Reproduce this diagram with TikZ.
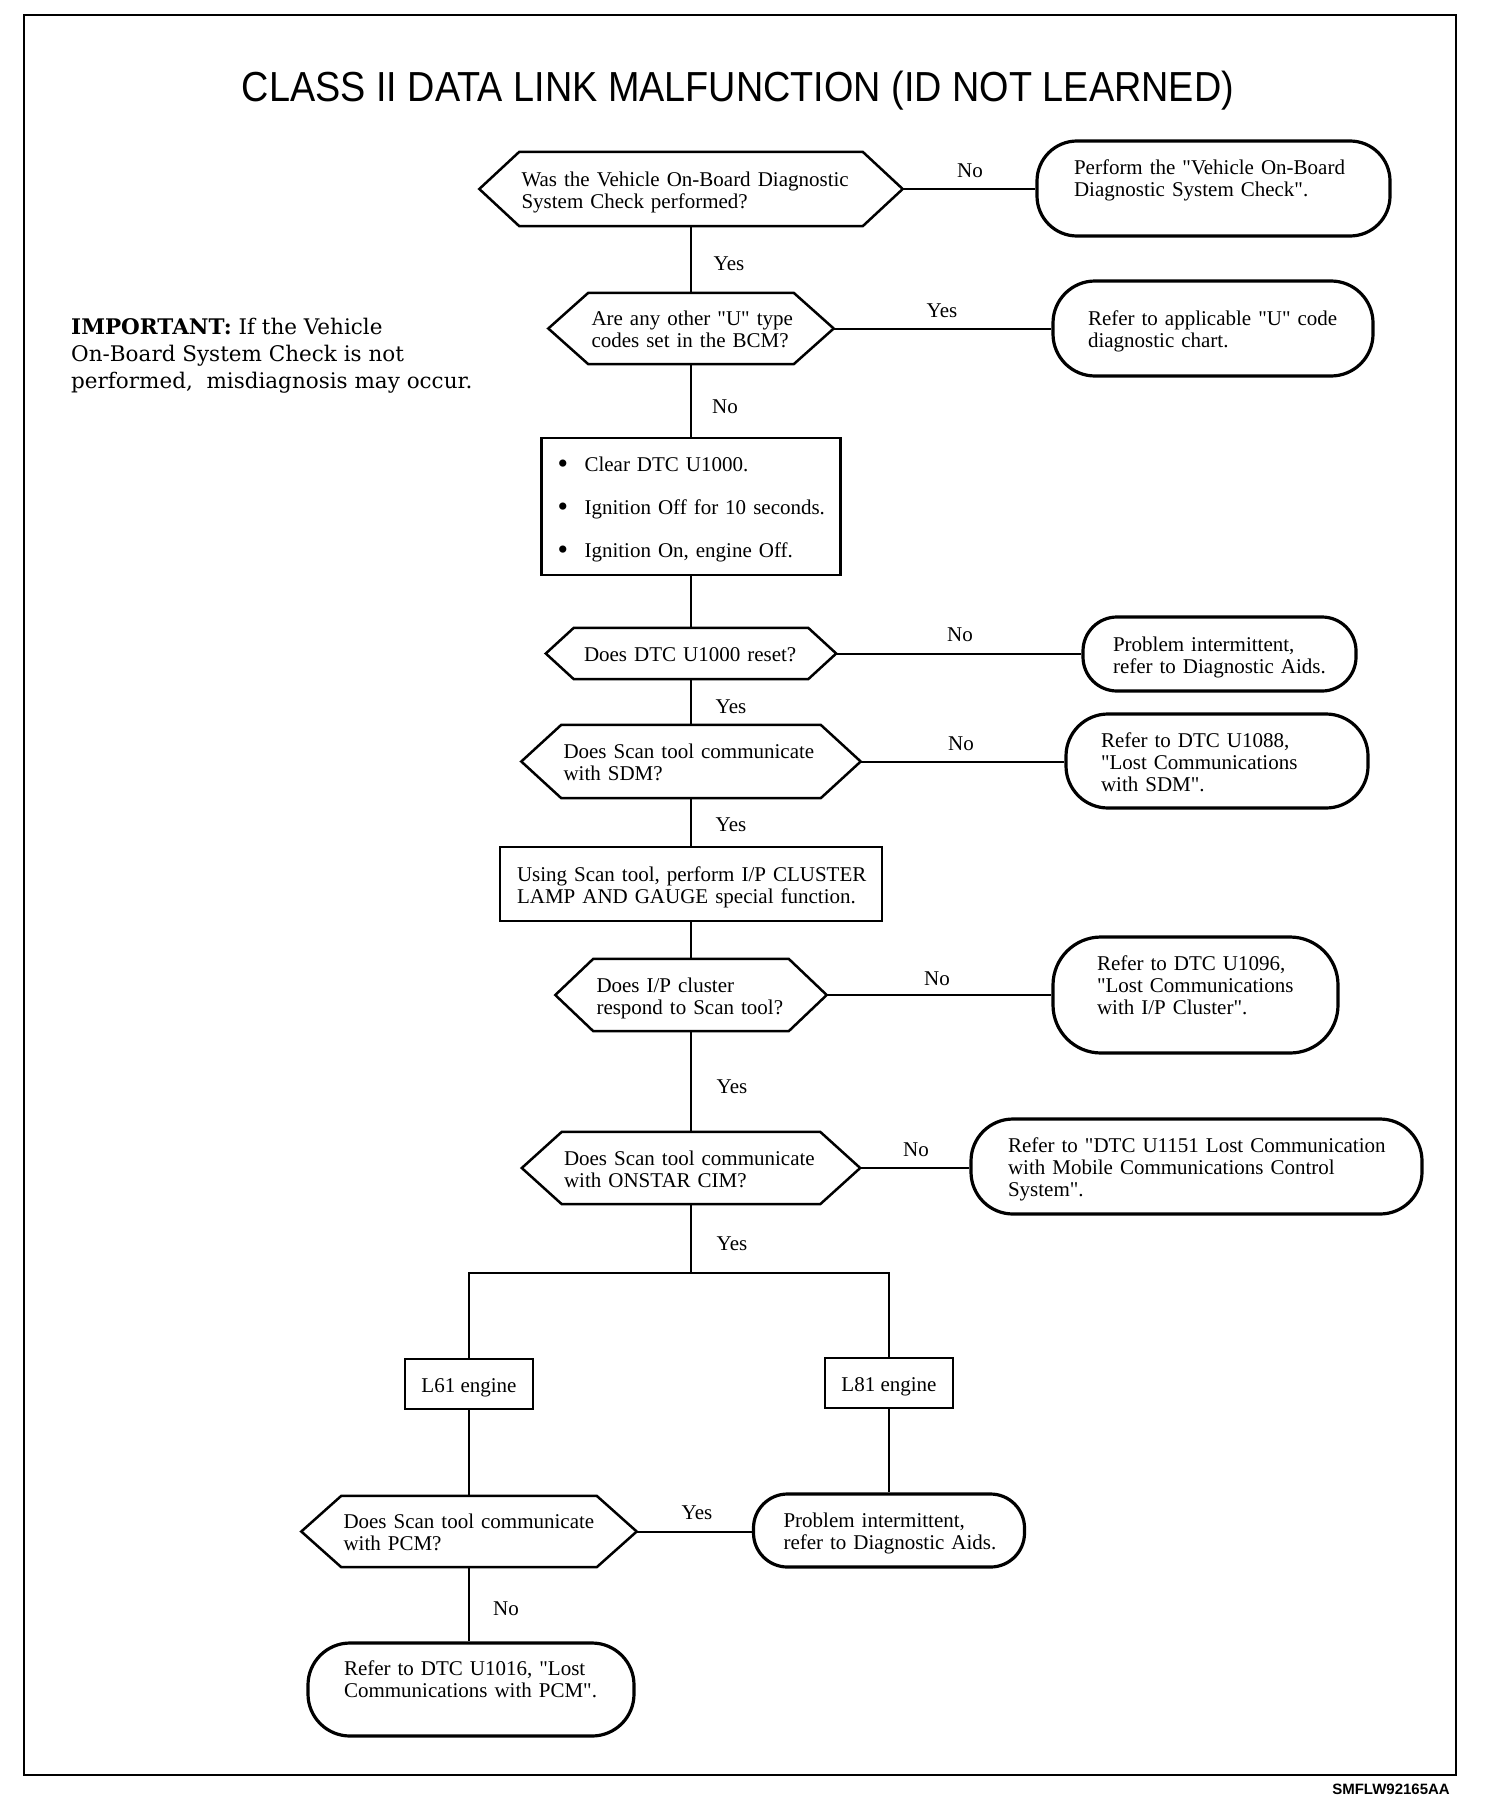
\documentclass[tikz,border=0pt]{standalone}
\usepackage{fontspec}
\setmainfont{Liberation Serif}
\newfontfamily\bodyfont{Liberation Serif}
\newfontfamily\notefont{DejaVu Serif}
\newfontfamily\titlefont[FakeStretch=0.9]{Liberation Sans}
\newfontfamily\codefont{Liberation Sans}
\newcommand\lns[1]{\begin{tabular}{@{}l@{}}\\[-14pt]#1\end{tabular}}
\newcommand\bul{\makebox[27pt][l]{\fontsize{30}{22}\selectfont\raisebox{-2pt}{\textbullet}}}
\newcommand\hexa[2]{\draw[shapeline] (#1.west) -- ([xshift=#2]#1.north west) -- ([xshift=-#2]#1.north east) -- (#1.east) -- ([xshift=-#2]#1.south east) -- ([xshift=#2]#1.south west) -- cycle;}
\tikzset{
  every node/.style={font=\bodyfont\fontsize{21}{22}\selectfont},
  shapeline/.style={line width=2.5pt, line join=miter},
  hexn/.style={draw=none, rectangle, inner ysep=0pt},
  term/.style={draw, rectangle, line width=3.2pt, rounded corners=#1, inner ysep=0pt},
  boxn/.style={draw, rectangle, line width=2.8pt, inner ysep=0pt},
  conn/.style={line width=2pt},
  lbl/.style={inner sep=0pt},
}
\begin{document}
\begin{tikzpicture}[x=1pt, y=-1pt]
\useasboundingbox (0,0) rectangle (1504,1814);
\draw[line width=2.5pt] (24,15) rectangle (1456,1775);

\node[inner sep=0pt, font=\titlefont\fontsize{42}{44}\selectfont] (title) at (738,90.5) {CLASS II DATA LINK MALFUNCTION (ID NOT LEARNED)};
\node[inner sep=0pt, font=\codefont\bfseries\fontsize{15}{16}\selectfont] (code) at (1391,1789) {SMFLW92165AA};

\node[anchor=west, align=left, inner sep=0pt, font=\notefont\fontsize{21.5}{27}\selectfont] (note) at (71,356)
  {\textbf{IMPORTANT:} If the Vehicle\\On-Board System Check is not\\performed,\ \ misdiagnosis may occur.};

% main column
\node[hexn, minimum width=423pt, minimum height=74pt, text width=339pt, inner xsep=42pt] (D1) at (691,189)
  {\lns{Was the Vehicle On-Board Diagnostic\\System Check performed?}};
\node[term=40pt, minimum width=353pt, minimum height=95pt, text width=279pt, inner xsep=37pt] (T1) at (1213.5,188.5)
  {\lns{Perform the "Vehicle On-Board\\Diagnostic System Check".\\{}}};

\node[hexn, minimum width=285pt, minimum height=71pt, text width=199pt, inner xsep=43pt] (D2) at (691,328.5)
  {\lns{Are any other "U" type\\codes set in the BCM?}};
\node[term=42pt, minimum width=320pt, minimum height=95pt, text width=250pt, inner xsep=35pt] (T2) at (1213,328.5)
  {\lns{Refer to applicable "U" code\\diagnostic chart.}};

\node[boxn, minimum width=299pt, minimum height=137pt, text width=267pt, inner xsep=16pt] (B1) at (691,506.5)
  {\lns{\bul Clear DTC U1000.\\[21pt]
        \bul Ignition Off for 10 seconds.\\[21pt]
        \bul Ignition On, engine Off.}};

\node[hexn, minimum width=290pt, minimum height=51pt, text width=214pt, inner xsep=38pt] (D3) at (691,653.5)
  {\lns{Does DTC U1000 reset?}};
\node[term=34pt, minimum width=273pt, minimum height=74pt, text width=213pt, inner xsep=30pt] (T3) at (1219.5,654)
  {\lns{Problem intermittent,\\refer to Diagnostic Aids.}};

\node[hexn, minimum width=339pt, minimum height=73pt, text width=255pt, inner xsep=42pt] (D4) at (691,761.5)
  {\lns{Does Scan tool communicate\\with SDM?}};
\node[term=42pt, minimum width=302pt, minimum height=94pt, text width=232pt, inner xsep=35pt] (T4) at (1217,761)
  {\lns{Refer to DTC U1088,\\"Lost Communications\\with SDM".}};

\node[boxn, minimum width=382pt, minimum height=74pt, text width=348pt, inner xsep=17pt] (B2) at (691,884)
  {\lns{Using Scan tool, perform I/P CLUSTER\\LAMP AND GAUGE special function.}};

\node[hexn, minimum width=271pt, minimum height=72pt, text width=189pt, inner xsep=41pt] (D5) at (691,995)
  {\lns{Does I/P cluster\\respond to Scan tool?}};
\node[term=48pt, minimum width=285pt, minimum height=116pt, text width=197pt, inner xsep=44pt] (T5) at (1195.5,995)
  {\lns{Refer to DTC U1096,\\"Lost Communications\\with I/P Cluster".\\{}}};

\node[hexn, minimum width=338pt, minimum height=72pt, text width=254pt, inner xsep=42pt] (D6) at (691,1168)
  {\lns{Does Scan tool communicate\\with ONSTAR CIM?}};
\node[term=42pt, minimum width=451pt, minimum height=95pt, text width=377pt, inner xsep=37pt] (T6) at (1196.5,1166.5)
  {\lns{Refer to "DTC U1151 Lost Communication\\with Mobile Communications Control\\System".}};

\coordinate (J) at (691,1273);
\node[boxn, minimum width=128pt, minimum height=50pt] (L61) at (469,1384) {\lns{L61 engine}};
\node[boxn, minimum width=128pt, minimum height=50pt] (L81) at (889,1383) {\lns{L81 engine}};

\node[hexn, minimum width=335pt, minimum height=71pt, text width=251pt, inner xsep=42pt] (D7) at (469,1531.5)
  {\lns{Does Scan tool communicate\\with PCM?}};
\node[term=34pt, minimum width=271pt, minimum height=73pt, text width=211pt, inner xsep=30pt] (T7) at (889,1530.5)
  {\lns{Problem intermittent,\\refer to Diagnostic Aids.}};
\node[term=42pt, minimum width=326pt, minimum height=93pt, text width=254pt, inner xsep=36pt] (T8) at (471,1689.5)
  {\lns{Refer to DTC U1016, "Lost\\Communications with PCM".\\{}}};

% hexagon outlines
\hexa{D1}{40pt}
\hexa{D2}{40pt}
\hexa{D3}{28pt}
\hexa{D4}{40pt}
\hexa{D5}{38pt}
\hexa{D6}{40pt}
\hexa{D7}{40pt}

% connectors
\draw[conn] (D1.east) -- (D1.east -| T1.west);
\draw[conn] (D1.south) -- (D2.north);
\draw[conn] (D2.east) -- (D2.east -| T2.west);
\draw[conn] (D2.south) -- (B1.north);
\draw[conn] (B1.south) -- (D3.north);
\draw[conn] (D3.east) -- (D3.east -| T3.west);
\draw[conn] (D3.south) -- (D4.north);
\draw[conn] (D4.east) -- (D4.east -| T4.west);
\draw[conn] (D4.south) -- (B2.north);
\draw[conn] (B2.south) -- (D5.north);
\draw[conn] (D5.east) -- (D5.east -| T5.west);
\draw[conn] (D5.south) -- (D6.north);
\draw[conn] (D6.east) -- (D6.east -| T6.west);
\draw[conn] (D6.south) -- (J);
\draw[conn] (L61.north) |- (J) -| (L81.north);
\draw[conn] (L61.south) -- (D7.north);
\draw[conn] (L81.south) -- (T7.north);
\draw[conn] (D7.east) -- (D7.east -| T7.west);
\draw[conn] (D7.south) -- (D7.south |- T8.north);

% labels
\node[lbl] (n1) at (970,171) {No};
\node[lbl] (y1) at (729,264) {Yes};
\node[lbl] (y2) at (942,311) {Yes};
\node[lbl] (n2) at (725,407) {No};
\node[lbl] (n3) at (960,635) {No};
\node[lbl] (y3) at (731,707) {Yes};
\node[lbl] (n4) at (961,744) {No};
\node[lbl] (y4) at (731,825) {Yes};
\node[lbl] (n5) at (937,979) {No};
\node[lbl] (y5) at (732,1087) {Yes};
\node[lbl] (n6) at (916,1150) {No};
\node[lbl] (y6) at (732,1244) {Yes};
\node[lbl] (y7) at (697,1513) {Yes};
\node[lbl] (n7) at (506,1609) {No};
\end{tikzpicture}
\end{document}
